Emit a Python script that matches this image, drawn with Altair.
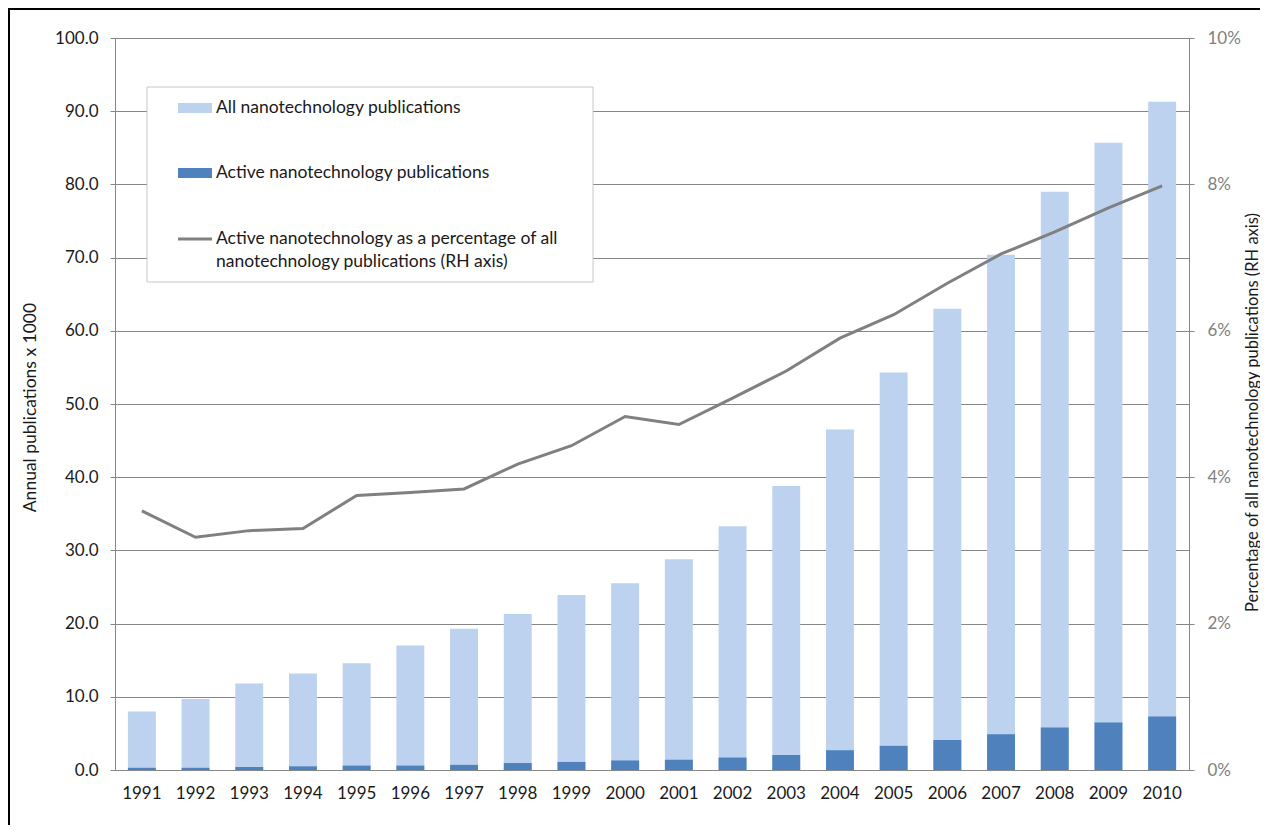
import altair as alt
import pandas as pd

years = [str(y) for y in range(1991, 2011)]
all_pubs = [8.0, 9.7, 11.8, 13.2, 14.6, 17.0, 19.3, 21.3, 23.9, 25.5,
            28.8, 33.3, 38.8, 46.5, 54.3, 63.0, 70.4, 79.0, 85.7, 91.3]
active_pubs = [0.3, 0.3, 0.4, 0.5, 0.6, 0.6, 0.7, 0.95, 1.1, 1.3,
               1.4, 1.7, 2.05, 2.7, 3.3, 4.1, 4.9, 5.8, 6.5, 7.3]
active_pct = [3.54, 3.18, 3.27, 3.30, 3.75, 3.79, 3.84, 4.18, 4.43, 4.83,
              4.72, 5.08, 5.45, 5.90, 6.22, 6.65, 7.05, 7.35, 7.68, 7.98]
legend_labels = ["All nanotechnology publications",
                 "Active nanotechnology publications",
                 "Active nanotechnology as a percentage of all",
                 "nanotechnology publications (RH axis)"]

df = pd.DataFrame({
    "year": years,
    "all": all_pubs,
    "active": active_pubs,
    "pct": [p / 100 for p in active_pct],
})

FONT = "Lato"
GRID = "#868686"
LIGHT = "#bcd2ee"
DARK = "#4f81bd"
LINE = "#808080"
TXT = "#1a1a1a"
W, H = 1074, 732

xenc = alt.X("year:N", title=None,
             scale=alt.Scale(paddingInner=0.48, paddingOuter=0.24),
             axis=alt.Axis(labelAngle=0, ticks=False, domainColor=GRID,
                           labelFont=FONT, labelFontSize=17, labelColor=TXT,
                           labelPadding=15))

yleft = alt.Axis(orient="left", values=list(range(0, 101, 10)), format=".1f",
                 grid=True, gridColor=GRID, domainColor=GRID, tickColor=GRID,
                 tickSize=5, labelPadding=12, labelFont=FONT, labelFontSize=17,
                 labelColor=TXT, title="Annual publications  x 1000",
                 titleFont=FONT, titleFontSize=17.5, titleFontWeight="normal",
                 titleColor=TXT, titleAngle=270, titleX=-85, titleY=H / 2 + 3,
                 titleAlign="center", titleBaseline="middle")

yright = alt.Axis(orient="right", values=[0, 0.02, 0.04, 0.06, 0.08, 0.10],
                  format=".0%", grid=False, domainColor=GRID, tickColor=GRID,
                  tickSize=5, labelPadding=13, labelFont=FONT, labelFontSize=17,
                  labelColor="#7f7f7f",
                  title="Percentage of all nanotechnology publications (RH axis)",
                  titleFont=FONT, titleFontSize=16.5, titleFontWeight="normal",
                  titleColor=TXT, titleAngle=270, titleX=63, titleY=H / 2 + 8,
                  titleAlign="center", titleBaseline="middle")

bars_all = alt.Chart(df).mark_bar(color=LIGHT).encode(
    x=xenc,
    y=alt.Y("all:Q", scale=alt.Scale(domain=[0, 100], nice=False), axis=yleft),
)
bars_active = alt.Chart(df).mark_bar(color=DARK).encode(
    x=xenc,
    y=alt.Y("active:Q", scale=alt.Scale(domain=[0, 100], nice=False)),
)
bars = alt.layer(bars_all, bars_active)

line = alt.Chart(df).mark_line(color=LINE, strokeWidth=3).encode(
    x=xenc,
    y=alt.Y("pct:Q", scale=alt.Scale(domain=[0, 0.1], nice=False), axis=yright),
)

one = pd.DataFrame({"a": [0]})

frame = alt.Chart(one).mark_rect(filled=False, stroke="#000000", strokeWidth=2).encode(
    x=alt.value(-106), x2=alt.value(W + 300), y=alt.value(-29), y2=alt.value(H + 300))

legend_box = alt.Chart(one).mark_rect(fill="white", stroke="#c8c8c8", strokeWidth=1).encode(
    x=alt.value(32), x2=alt.value(478), y=alt.value(49), y2=alt.value(244))
sym1 = alt.Chart(one).mark_rect(color=LIGHT).encode(
    x=alt.value(63), x2=alt.value(97), y=alt.value(65), y2=alt.value(75))
sym2 = alt.Chart(one).mark_rect(color=DARK).encode(
    x=alt.value(63), x2=alt.value(97), y=alt.value(130), y2=alt.value(140))
sym3 = alt.Chart(one).mark_rule(color=LINE, strokeWidth=3).encode(
    x=alt.value(63), x2=alt.value(97), y=alt.value(201))

texts = []
for lbl, ty in zip(legend_labels, [70, 135, 201, 224]):
    texts.append(alt.Chart(one).mark_text(text=lbl, align="left", baseline="middle",
                                          font=FONT, fontSize=17.5, color=TXT).encode(
        x=alt.value(101), y=alt.value(ty)))

chart = alt.layer(frame, bars, line, legend_box, sym1, sym2, sym3, *texts).resolve_scale(
    y="independent"
).properties(
    width=W, height=H,
    autosize=alt.AutoSizeParams(type="none"),
    padding={"left": 107, "top": 30, "right": 71, "bottom": 55},
    background="white",
).configure_view(stroke=None)

chart.save("out.html", embed_options={"renderer": "svg", "actions": False})
